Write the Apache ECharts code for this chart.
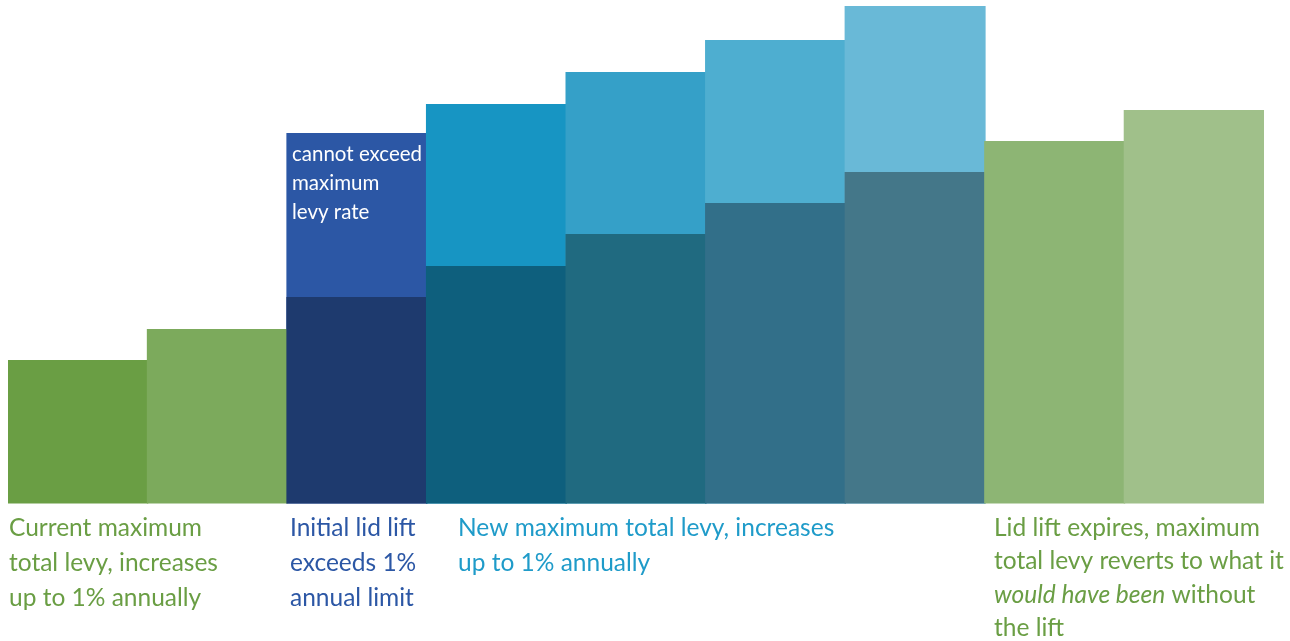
<!DOCTYPE html>
<html><head><meta charset="utf-8">
<script src="https://cdn.jsdelivr.net/npm/echarts@6/dist/echarts.min.js"></script>
<style>html,body{margin:0;padding:0;background:#fff}#c{width:1290px;height:641px}</style>
</head><body><div id="c"></div>
<script>
// Categories (years of the levy cycle)
const categories = ['Y1','Y2','Y3','Y4','Y5','Y6','Y7','Y8','Y9'];
// Maximum total levy under the 1% limit (base) — relative units
const baseValues = [143.5, 174.5, 206.5, 237.5, 269.5, 300.5, 331.5, 362.5, 393.5];
// Total levy with the lid lift in effect (base + lift)
const liftTotalValues = [null, null, 370.5, 399.5, 431.5, 463.5, 497.5, null, null];
const baseColors = ['#6a9e44','#7caa5c','#1e3a6e','#0e5f7d','#206a80','#326f89','#447789','#8db574','#a0c08a'];
const liftColors = [null,null,'#2c57a5','#1795c3','#35a0c8','#4eaed0','#69b9d7',null,null];

const chart = echarts.init(document.getElementById('c'), null, {renderer:'canvas'});
const FONT = 'Lato';
const green = '#6a9e44', blue = '#2c57a5', cyan = '#1f9bc9';
function txt(x, y, text, color, size, lh) {
  return {type:'text', left:x, top:y, z:100, style:{text, fill:color, font: size+'px '+FONT, lineHeight: lh}};
}
chart.setOption({
  animation:false,
  grid:{left:8, right:26, top:0, bottom:137.5, containLabel:false},
  xAxis:{type:'category', data:categories, show:false, boundaryGap:true},
  yAxis:{type:'value', min:0, max:503.5, show:false},
  series:[
    {type:'bar', name:'With lid lift', barWidth:141, barGap:'-100%', z:1,
     data: liftTotalValues.map((v,i)=>v==null?null:({value:v, itemStyle:{color:liftColors[i]}}))},
    {type:'bar', name:'Base', barWidth:141, barGap:'-100%', z:2,
     data: baseValues.map((v,i)=>({value:v, itemStyle:{color:baseColors[i]}}))}
  ],
  graphic:[
    txt(9, 511, 'Current maximum\ntotal levy, increases\nup to 1% annually', green, 24.5, 35),
    txt(290, 511, 'Initial lid lift\nexceeds 1%\nannual limit', blue, 24.5, 35),
    txt(458, 511, 'New maximum total levy, increases\nup to 1% annually', cyan, 24.5, 35),
    {type:'text', left:994, top:511, z:100, style:{
      text:'Lid lift expires, maximum\ntotal levy reverts to what it\n{i|would have been} without\nthe lift',
      fill:green, font:'24.5px '+FONT, lineHeight:33.5,
      rich:{i:{fontStyle:'italic', fill:green, fontFamily:FONT, fontSize:24.5, lineHeight:33.5}}}},
    txt(292, 140, 'cannot exceed\nmaximum\nlevy rate', '#ffffff', 20.5, 29)
  ]
});
</script></body></html>
